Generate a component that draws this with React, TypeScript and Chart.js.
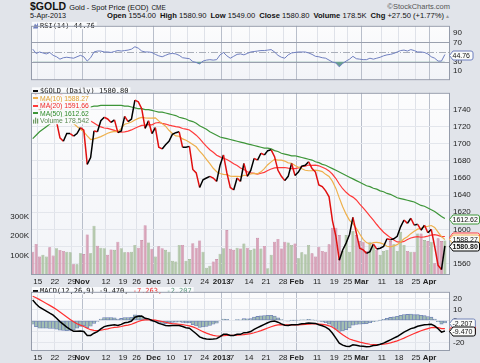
import React, { useEffect, useRef } from "react";
import { Chart, registerables } from "chart.js";
Chart.register(...registerables);

const FONT = "'Liberation Sans', Arial, sans-serif";
const MONO = "'DejaVu Sans Mono', monospace";

// ---- categories ----
const tradingDays: [string, number[]][] = [
  ["2012-10", [11, 12, 15, 16, 17, 18, 19, 22, 23, 24, 25, 26, 29, 30, 31]],
  ["2012-11", [1, 2, 5, 6, 7, 8, 9, 12, 13, 14, 15, 16, 19, 20, 21, 23, 26, 27, 28, 29, 30]],
  ["2012-12", [3, 4, 5, 6, 7, 10, 11, 12, 13, 14, 17, 18, 19, 20, 21, 24, 26, 27, 28, 31]],
  ["2013-01", [2, 3, 4, 7, 8, 9, 10, 11, 14, 15, 16, 17, 18, 21, 22, 23, 24, 25, 28, 29, 30, 31]],
  ["2013-02", [1, 4, 5, 6, 7, 8, 11, 12, 13, 14, 15, 19, 20, 21, 22, 25, 26, 27, 28]],
  ["2013-03", [1, 4, 5, 6, 7, 8, 11, 12, 13, 14, 15, 18, 19, 20, 21, 22, 25, 26, 27, 28]],
  ["2013-04", [1, 2, 3, 4, 5]],
];
const dates: string[] = tradingDays.flatMap(([m, ds]) => ds.map((d) => `${m}-${String(d).padStart(2, "0")}`));

const axisLabels: [string, string][] = [
  ["2012-10-15", "15"], ["2012-10-22", "22"], ["2012-10-29", "29"], ["2012-11-01", "Nov"],
  ["2012-11-12", "12"], ["2012-11-19", "19"], ["2012-11-26", "26"], ["2012-12-03", "Dec"],
  ["2012-12-10", "10"], ["2012-12-17", "17"], ["2012-12-24", "24"], ["2013-01-02", "2013"],
  ["2013-01-07", "7"], ["2013-01-14", "14"], ["2013-01-21", "21"], ["2013-01-28", "28"],
  ["2013-02-01", "Feb"], ["2013-02-11", "11"], ["2013-02-19", "19"], ["2013-02-25", "25"],
  ["2013-03-01", "Mar"], ["2013-03-11", "11"], ["2013-03-18", "18"], ["2013-03-25", "25"],
  ["2013-04-01", "Apr"],
];
const boldLabels = ["Nov", "Dec", "2013", "Feb", "Mar", "Apr"];
const monthStarts = ["2012-11-01", "2012-12-03", "2013-01-02", "2013-02-01", "2013-03-01", "2013-04-01"];

const priceTicks = [1560, 1580, 1600, 1620, 1640, 1660, 1680, 1700, 1720, 1740];
const volumeTicks = [100000, 200000, 300000];
const rsiTicks = [10, 30, 70, 90];
const macdTicks = [-20, -10, 0, 10, 20];

// ---- series ----
const closes = [
  1768, 1756, 1738, 1747, 1752, 1745, 1724, 1726, 1707, 1703,
  1712, 1712, 1709, 1712, 1719, 1716, 1676, 1684, 1715, 1714,
  1727, 1731, 1729, 1725, 1728, 1713, 1715, 1732, 1726, 1729,
  1751, 1749, 1741, 1718, 1727, 1712, 1719, 1696, 1694, 1699,
  1703, 1711, 1713, 1714, 1696, 1696, 1697, 1670, 1666, 1649,
  1658, 1660, 1662, 1660, 1656, 1675, 1687, 1666, 1649, 1646,
  1660, 1656, 1677, 1662, 1669, 1683, 1681, 1689, 1687, 1692,
  1693, 1685, 1669, 1662, 1657, 1662, 1677, 1663, 1667, 1674,
  1675, 1679, 1671, 1667, 1652, 1650, 1645, 1638, 1610, 1592,
  1564, 1576, 1584, 1594, 1614, 1596, 1578, 1576, 1572, 1574,
  1583, 1577, 1578, 1580, 1589, 1588, 1589, 1592, 1603, 1611,
  1607, 1613, 1605, 1606, 1599, 1605, 1596, 1600, 1580, 1558,
  1553, 1580.8,
];
const ma10 = [
  1774.1, 1772.5, 1768.8, 1765.9, 1763.3, 1758.8, 1753.2, 1748.4, 1742.7, 1736.6,
  1731, 1726.6, 1723.7, 1720.2, 1716.9, 1714, 1709.2, 1705, 1705.8, 1706.9,
  1708.4, 1710.3, 1712.3, 1713.6, 1714.5, 1714.2, 1718.1, 1722.9, 1724, 1725.5,
  1727.9, 1729.7, 1730.9, 1730.2, 1730.1, 1730, 1730.4, 1726.8, 1723.6, 1720.6,
  1715.8, 1712, 1709.2, 1708.8, 1705.7, 1704.1, 1701.9, 1699.3, 1696.5, 1691.5,
  1687, 1681.9, 1676.8, 1671.4, 1667.4, 1665.3, 1664.3, 1663.9, 1662.2, 1661.9,
  1662.1, 1661.7, 1663.2, 1663.4, 1664.7, 1665.5, 1664.9, 1667.2, 1671, 1675.6,
  1678.9, 1681.8, 1681, 1681, 1679.8, 1677.7, 1677.3, 1674.7, 1672.7, 1670.9,
  1669.1, 1668.5, 1668.7, 1669.2, 1668.7, 1667.5, 1664.3, 1661.8, 1656.1, 1647.9,
  1636.8, 1626.5, 1617.8, 1610.5, 1606.7, 1601.3, 1594.6, 1588.4, 1584.6, 1582.8,
  1584.7, 1584.8, 1584.2, 1582.8, 1580.3, 1579.5, 1580.6, 1582.2, 1585.3, 1589,
  1591.4, 1595, 1597.7, 1600.3, 1601.3, 1603, 1603.7, 1604.5, 1602.2, 1596.9,
  1591.5, 1588.27,
];
const ma20 = [
  1771.6, 1771, 1769.9, 1768.7, 1767.7, 1765.9, 1763.4, 1761.2, 1758.6, 1755.8,
  1752.6, 1749.6, 1746.3, 1743, 1740.1, 1736.4, 1731.2, 1726.7, 1724.3, 1721.8,
  1719.7, 1718.5, 1718, 1716.9, 1715.7, 1714.1, 1713.7, 1714, 1714.9, 1716.2,
  1718.2, 1720, 1721.6, 1721.9, 1722.3, 1722.1, 1724.3, 1724.9, 1723.8, 1723.1,
  1721.9, 1720.9, 1720.1, 1719.5, 1717.9, 1717.1, 1716.2, 1713.1, 1710.1, 1706.1,
  1701.4, 1697, 1693, 1690.1, 1686.6, 1684.7, 1683.1, 1681.6, 1679.4, 1676.7,
  1674.6, 1671.8, 1670, 1667.4, 1666.1, 1665.4, 1664.6, 1665.6, 1666.6, 1668.8,
  1670.5, 1671.8, 1672.1, 1672.2, 1672.3, 1671.6, 1671.1, 1671, 1671.9, 1673.3,
  1674, 1675.2, 1674.9, 1675.1, 1674.3, 1672.6, 1670.8, 1668.3, 1664.4, 1659.4,
  1653, 1647.5, 1643.3, 1639.9, 1637.7, 1634.4, 1629.5, 1625.1, 1620.4, 1615.4,
  1610.8, 1605.7, 1601, 1596.7, 1593.5, 1590.4, 1587.6, 1585.3, 1585, 1585.9,
  1588.1, 1589.9, 1591, 1591.6, 1590.8, 1591.3, 1592.2, 1593.4, 1593.8, 1593,
  1591.5, 1591.66,
];
const ma50 = [
  1706, 1710, 1714, 1717, 1720, 1723, 1726, 1728, 1730, 1732,
  1734, 1735, 1737, 1738, 1740, 1741, 1742, 1743, 1744, 1744,
  1745, 1745, 1745, 1745, 1745, 1745, 1745, 1744, 1744, 1743,
  1742, 1741, 1741, 1740, 1740, 1739, 1738, 1737, 1737, 1736,
  1735, 1734, 1733, 1731, 1730, 1729, 1727, 1726, 1724, 1721,
  1719, 1717, 1714, 1712, 1710, 1708, 1707, 1706, 1705, 1704,
  1703, 1702, 1701, 1700, 1699, 1698, 1697, 1696, 1695, 1695,
  1694, 1692, 1691, 1689, 1688, 1687, 1686, 1686, 1685, 1684,
  1683, 1682, 1681, 1679, 1678, 1676, 1675, 1673, 1671, 1669,
  1667, 1665, 1663, 1661, 1659, 1657, 1655, 1653, 1651, 1650,
  1648, 1647, 1645, 1644, 1642, 1641, 1639, 1637, 1636, 1635,
  1634, 1633, 1632, 1630, 1628, 1627, 1625, 1623, 1621, 1618,
  1615, 1612.62,
];
const volume = [
  120000, 160000, 95000, 104000, 95000, 143000, 100000, 138000, 129000, 124000,
  120000, 117000, 55000, 55000, 112000, 108000, 209000, 112000, 254000, 151000,
  141000, 138000, 104000, 132000, 130000, 172000, 138000, 117000, 117000, 120000,
  155000, 141000, 180000, 257000, 168000, 135000, 95000, 148000, 138000, 130000,
  120000, 73000, 70000, 155000, 155000, 73000, 82000, 164000, 141000, 178000,
  120000, 38000, 48000, 70000, 82000, 110000, 138000, 232000, 135000, 130000,
  140000, 137000, 163000, 141000, 129000, 137000, 192000, 137000, 150000, 35000,
  104000, 172000, 186000, 137000, 172000, 168000, 155000, 163000, 86000, 117000,
  107000, 155000, 112000, 95000, 146000, 124000, 120000, 158000, 244000, 244000,
  206000, 124000, 206000, 120000, 227000, 206000, 175000, 172000, 124000, 172000,
  155000, 129000, 104000, 124000, 129000, 175000, 158000, 124000, 223000, 155000,
  124000, 120000, 120000, 214000, 214000, 180000, 175000, 172000, 60000, 189000,
  175000, 178542,
];
const rsi = [
  56, 47, 50, 48, 46, 49, 43, 40, 35, 38,
  39, 38, 37, 40, 43, 40, 31, 38, 50, 52,
  52, 50, 50, 49, 51, 53, 52, 53, 54, 56,
  61, 58, 52, 50, 50, 49, 45, 42, 40, 43,
  46, 47, 46, 43, 38, 37, 36, 30, 28, 25,
  31, 33, 34, 33, 34, 44, 49, 42, 37, 41,
  45, 46, 44, 47, 50, 51, 52, 53, 53, 54,
  55, 50, 43, 39, 37, 44, 48, 49, 50, 50,
  50, 48, 45, 41, 40, 38, 37, 33, 29, 27,
  19, 26, 31, 35, 41, 36, 35, 34, 34, 37,
  35, 37, 39, 42, 44, 45, 47, 50, 53, 54,
  52, 55, 53, 50, 50, 49, 46, 40, 37, 31,
  31, 44.76,
];
const macd = [
  18.6, 15, 12, 10.3, 8.5, 6.6, 4.8, 2, -1, -3.5,
  -6, -8, -9.8, -9.8, -9.6, -10, -13.6, -13.5, -11.5, -10,
  -7.5, -5.5, -4.8, -4.2, -3.8, -4.5, -3.5, -2, -1.5, -0.5,
  3, 3.8, 4, 2, 1.5, 0, -1, -2.6, -3.5, -4.5,
  -4.8, -4.6, -4.5, -4.6, -5.5, -6.5, -7, -9.5, -12, -14.8,
  -16, -16.8, -17, -16.8, -16.4, -14.5, -12.5, -12.5, -13.5, -13.5,
  -12.5, -12.5, -11, -10.8, -10, -8, -6.5, -5, -3.5, -2,
  -0.8, -0.5, -1.5, -3, -4.3, -4.5, -3.8, -3.8, -3.5, -3,
  -2.8, -2.3, -2.4, -2.6, -3.8, -4.8, -6, -8, -11.5, -16,
  -20.5, -22.3, -23.3, -23.5, -22, -22.3, -23, -23.3, -23.8, -23.5,
  -22.7, -22.3, -21.5, -20.5, -19, -17.5, -16, -14.5, -12.5, -10.5,
  -9, -7.3, -6.5, -5.2, -4.5, -3.8, -3.7, -3.5, -4.8, -7.5,
  -10.5, -9.47,
];
const signal = [
  22, 20.6, 18.9, 17.2, 15.5, 13.7, 11.9, 9.9, 7.7, 5.5,
  3.2, 1, -1.2, -2.9, -4.2, -5.4, -7, -8.3, -8.9, -9.1,
  -8.8, -8.1, -7.5, -6.8, -6.2, -5.9, -5.4, -4.7, -4.1, -3.4,
  -2.1, -0.9, 0.1, 0.5, 0.7, 0.6, 0.3, -0.3, -0.9, -1.6,
  -2.3, -2.8, -3.1, -3.4, -3.8, -4.3, -4.9, -5.8, -7, -8.6,
  -10.1, -11.4, -12.5, -13.4, -14, -14.1, -13.8, -13.5, -13.5, -13.5,
  -13.3, -13.1, -12.7, -12.3, -11.8, -11.1, -10.2, -9.2, -8, -6.8,
  -5.6, -4.6, -4, -3.8, -3.9, -4, -4, -4, -3.9, -3.7,
  -3.5, -3.3, -3.1, -3, -3.2, -3.5, -4, -4.8, -6.1, -8.1,
  -10.6, -12.9, -15, -16.7, -17.8, -18.7, -19.6, -20.3, -21, -21.5,
  -21.7, -21.8, -21.7, -21.5, -21, -20.3, -19.4, -18.4, -17.2, -15.9,
  -14.5, -13.1, -11.8, -10.5, -9.3, -8.2, -7.3, -6.5, -6.2, -6.5,
  -7.3, -7.263,
];
const hist = [
  -3.4, -5.6, -6.9, -6.9, -7, -7.1, -7.1, -7.9, -8.7, -9,
  -9.2, -9, -8.6, -6.9, -5.4, -4.6, -6.6, -5.2, -2.6, -0.9,
  1.3, 2.6, 2.7, 2.6, 2.4, 1.4, 1.9, 2.7, 2.6, 2.9,
  5.1, 4.7, 3.9, 1.5, 0.8, -0.6, -1.3, -2.3, -2.6, -2.9,
  -2.5, -1.8, -1.4, -1.2, -1.7, -2.2, -2.1, -3.7, -5, -6.2,
  -5.9, -5.4, -4.5, -3.4, -2.4, -0.4, 1.3, 1, 0, 0,
  0.8, 0.6, 1.7, 1.5, 1.8, 3.1, 3.7, 4.2, 4.5, 4.8,
  4.8, 4.1, 2.5, 0.8, -0.4, -0.5, 0.2, 0.2, 0.4, 0.7,
  0.7, 1, 0.7, 0.4, -0.6, -1.3, -2, -3.2, -5.4, -7.9,
  -9.9, -9.4, -8.3, -6.8, -4.2, -3.6, -3.4, -3, -2.8, -2,
  -1, -0.5, 0.2, 1, 2, 2.8, 3.4, 3.9, 4.7, 5.4,
  5.5, 5.8, 5.3, 5.3, 4.8, 4.4, 3.6, 3, 1.4, -1,
  -3.2, -2.207,
];

const headerStats: [string, string][] = [
  ["Open", "1554.00"], ["High", "1580.90"], ["Low", "1549.00"],
  ["Close", "1580.80"], ["Volume", "178.5K"], ["Chg", "+27.50 (+1.77%)"],
];

// ---- helpers ----
const cats = [...dates, ""];
const labelMap = new Map(axisLabels);
const last = (a: number[]) => a[a.length - 1];

const C = {
  up: "#000000", down: "#e01010",
  ma10: "#eeb04c", ma20: "#ff3a3a", ma50: "#3d9538",
  volUp: "#b2c7a9", volDown: "#d8a2b8",
  rsi: "#6f7fc0", rsiFill: "#6aa090",
  sig: "#ff3030", histFill: "#a3bfb2", histLine: "#7284b8",
  border: "#959cab",
};

function xScale(show: boolean, h: number, pad: number) {
  return {
    type: "category",
    offset: true,
    border: { display: false },
    grid: {
      offset: true,
      drawTicks: false,
      lineWidth: 1,
      color: (c: any) => {
        const d = cats[c.index];
        if (!d) return "rgba(0,0,0,0)";
        if (monthStarts.includes(d)) return "#b9bfcb";
        if (labelMap.has(d)) return "#dfe2e9";
        return "rgba(0,0,0,0)";
      },
    },
    ticks: {
      display: show,
      autoSkip: false,
      maxRotation: 0,
      minRotation: 0,
      padding: pad,
      labelOffset: -1.7,
      color: "#222",
      font: (c: any) => ({
        family: FONT,
        size: 8,
        weight: boldLabels.includes(labelMap.get(cats[c.index]) || "") ? "bold" : "normal",
      }),
      callback: (_v: any, i: number) => labelMap.get(cats[i]) || "",
    },
    afterFit: (s: any) => { s.height = h; },
  };
}

function rightAxis(min: number, max: number, ticks: number[], grid: boolean) {
  return {
    position: "right",
    min, max,
    border: { display: false },
    grid: { display: grid, drawTicks: false, color: "#e3e6ec" },
    ticks: {
      padding: 3, color: "#222", font: { family: FONT, size: 8 },
      callback: (v: any) => String(v),
    },
    afterBuildTicks: (s: any) => { s.ticks = ticks.map((v) => ({ value: v })); },
    afterFit: (s: any) => { s.width = 30; },
  };
}

function panelPlugin(extra?: (chart: any) => void) {
  return {
    id: "panel",
    beforeDraw(chart: any) {
      const { ctx, chartArea: a } = chart;
      ctx.save();
      const g = ctx.createLinearGradient(0, a.top, 0, a.bottom);
      g.addColorStop(0, "#fcfcfd");
      g.addColorStop(1, "#f2f4f8");
      ctx.fillStyle = g;
      ctx.fillRect(a.left, a.top, a.right - a.left, a.bottom - a.top);
      ctx.restore();
    },
    afterDatasetsDraw(chart: any) {
      const { ctx, chartArea: a } = chart;
      if (extra) extra(chart);
      ctx.save();
      ctx.strokeStyle = C.border;
      ctx.lineWidth = 1;
      ctx.strokeRect(a.left + 0.5, a.top + 0.5, a.right - a.left - 1, a.bottom - a.top - 1);
      ctx.restore();
    },
  };
}

function drawTag(ctx: CanvasRenderingContext2D, y: number, text: string, color: string, bold = false) {
  ctx.save();
  ctx.font = `${bold ? "bold " : ""}7px ${FONT}`;
  const tw = ctx.measureText(text).width;
  const x0 = 449.5, h = 9, tip = 3.5;
  const x1 = Math.min(479.5, x0 + 3 + tw + 3);
  const t = Math.round(y) + 0.5;
  ctx.beginPath();
  ctx.moveTo(x0, t);
  ctx.lineTo(x0 + tip, t - h / 2);
  ctx.lineTo(x1 - 2, t - h / 2);
  ctx.quadraticCurveTo(x1, t - h / 2, x1, t - h / 2 + 2);
  ctx.lineTo(x1, t + h / 2 - 2);
  ctx.quadraticCurveTo(x1, t + h / 2, x1 - 2, t + h / 2);
  ctx.lineTo(x0 + tip, t + h / 2);
  ctx.closePath();
  ctx.fillStyle = "#fafbfa";
  ctx.fill();
  ctx.lineWidth = 1;
  ctx.strokeStyle = color;
  ctx.stroke();
  ctx.fillStyle = "#111";
  ctx.textBaseline = "middle";
  ctx.textAlign = "left";
  ctx.fillText(text, x0 + 3, t + 0.5);
  ctx.restore();
}

function legendRow(ctx: CanvasRenderingContext2D, y: number, parts: { text: string; color: string }[], font: string, icon: (ctx: CanvasRenderingContext2D, y: number) => void) {
  ctx.save();
  ctx.font = font;
  const w = parts.reduce((s, p) => s + ctx.measureText(p.text).width, 0);
  ctx.fillStyle = "rgba(250,251,252,0.96)";
  ctx.fillRect(32, y - 3.7, 8 + w + 2, 7.4);
  icon(ctx, y);
  let x = 40;
  ctx.textBaseline = "middle";
  ctx.textAlign = "left";
  for (const p of parts) {
    ctx.fillStyle = p.color;
    ctx.fillText(p.text, x, y + 0.5);
    x += ctx.measureText(p.text).width;
  }
  ctx.restore();
}

const dashIcon = (color: string) => (ctx: CanvasRenderingContext2D, y: number) => {
  ctx.fillStyle = color;
  ctx.fillRect(33, Math.round(y) - 1, 5, 2);
};

const baseOptions = {
  responsive: false,
  animation: false,
  events: [],
  plugins: { legend: { display: false }, tooltip: { enabled: false } },
};

export default function App() {
  const rsiRef = useRef<HTMLCanvasElement>(null);
  const priceRef = useRef<HTMLCanvasElement>(null);
  const macdRef = useRef<HTMLCanvasElement>(null);

  useEffect(() => {
    const charts: Chart[] = [];

    // RSI panel
    charts.push(new Chart(rsiRef.current!, {
      type: "line",
      data: {
        labels: cats,
        datasets: [{
          data: rsi,
          borderColor: C.rsi,
          borderWidth: 1,
          pointRadius: 0,
          tension: 0,
          fill: { target: { value: 30 }, above: "rgba(0,0,0,0)", below: C.rsiFill },
        }],
      },
      options: {
        ...baseOptions,
        layout: { padding: { left: 31, top: 4, bottom: 2, right: 0 } },
        scales: {
          x: xScale(false, 0, 0),
          y: rightAxis(-9, 104.8, rsiTicks, false),
        },
      } as any,
      plugins: [
        {
          id: "rsiLines",
          beforeDatasetsDraw(chart: any) {
            const { ctx, chartArea: a } = chart;
            const y = chart.scales.y;
            ctx.save();
            ctx.lineWidth = 1;
            ctx.strokeStyle = "#9aa0ae";
            for (const v of [70, 30]) {
              const p = Math.round(y.getPixelForValue(v)) + 0.5;
              ctx.beginPath(); ctx.moveTo(a.left, p); ctx.lineTo(a.right, p); ctx.stroke();
            }
            ctx.strokeStyle = "#a9aeb9";
            ctx.setLineDash([7, 2, 1, 2]);
            const p = Math.round(y.getPixelForValue(50)) + 0.5;
            ctx.beginPath(); ctx.moveTo(a.left, p); ctx.lineTo(a.right, p); ctx.stroke();
            ctx.restore();
          },
        },
        panelPlugin((chart: any) => {
          legendRow(chart.ctx, 7.5, [{ text: `RSI(14) ${last(rsi).toFixed(2)}`, color: "#222" }], `7px ${MONO}`, (ctx, y) => {
            ctx.fillStyle = C.rsi;
            ctx.beginPath();
            ctx.moveTo(33, y + 3); ctx.lineTo(35, y - 2); ctx.lineTo(36.5, y); ctx.lineTo(38, y - 3); ctx.lineTo(38, y + 3);
            ctx.closePath(); ctx.fill();
          });
        }),
        {
          id: "rsiTag",
          afterDraw(chart: any) {
            drawTag(chart.ctx, chart.scales.y.getPixelForValue(last(rsi)), last(rsi).toFixed(2), C.rsi);
          },
        },
      ],
    }));

    // Price + volume panel
    const volColors = closes.map((c, i) => (i > 0 && c >= closes[i - 1] ? C.volUp : C.volDown));
    const volBorders = closes.map((c, i) => (i > 0 && c >= closes[i - 1] ? "#97ae8c" : "#c27e9b"));
    charts.push(new Chart(priceRef.current!, {
      type: "line",
      data: {
        labels: cats,
        datasets: [
          {
            type: "bar", data: volume, yAxisID: "yv", order: 10,
            backgroundColor: volColors, borderColor: volBorders, borderWidth: 0.6,
            barPercentage: 0.9, categoryPercentage: 1,
          },
          { data: ma50, yAxisID: "y", order: 4, borderColor: C.ma50, borderWidth: 1.2, pointRadius: 0 },
          { data: ma20, yAxisID: "y", order: 3, borderColor: C.ma20, borderWidth: 1.2, pointRadius: 0 },
          { data: ma10, yAxisID: "y", order: 2, borderColor: C.ma10, borderWidth: 1.2, pointRadius: 0 },
          {
            data: closes, yAxisID: "y", order: 1, borderWidth: 1.5, pointRadius: 0, borderColor: C.up,
            segment: { borderColor: (c: any) => (c.p1.parsed.y < c.p0.parsed.y ? C.down : C.up) },
          },
        ],
      } as any,
      options: {
        ...baseOptions,
        layout: { padding: { left: 0, top: 2, bottom: 0, right: 0 } },
        scales: {
          x: xScale(true, 10, 2),
          y: rightAxis(1546.7, 1759.6, priceTicks, true),
          yv: {
            position: "left", min: 0, max: 940000,
            border: { display: false },
            grid: { display: false, drawTicks: false },
            ticks: {
              padding: 2, color: "#222", font: { family: FONT, size: 8 },
              callback: (v: any) => `${v / 1000}K`,
            },
            afterBuildTicks: (s: any) => { s.ticks = volumeTicks.map((v) => ({ value: v })); },
            afterFit: (s: any) => { s.width = 31; },
          },
        },
      } as any,
      plugins: [
        panelPlugin((chart: any) => {
          const ctx = chart.ctx;
          legendRow(ctx, 6, [{ text: `$GOLD (Daily) ${last(closes).toFixed(2)}`, color: "#111" }], `7px ${MONO}`, dashIcon("#111"));
          legendRow(ctx, 13.4, [{ text: `MA(10) ${last(ma10).toFixed(2)}`, color: "#e0a030" }], `6.8px ${FONT}`, dashIcon(C.ma10));
          legendRow(ctx, 20.8, [{ text: `MA(20) ${last(ma20).toFixed(2)}`, color: "#f02828" }], `6.8px ${FONT}`, dashIcon(C.ma20));
          legendRow(ctx, 28.2, [{ text: `MA(50) ${last(ma50).toFixed(2)}`, color: "#2f8a2a" }], `6.8px ${FONT}`, dashIcon(C.ma50));
          legendRow(ctx, 35.6, [{ text: `Volume ${last(volume).toLocaleString("en-US")}`, color: "#5b8a52" }], `6.8px ${FONT}`, (c, y) => {
            c.fillStyle = "#6d9a62";
            c.fillRect(33, y - 1, 1.2, 4);
            c.fillRect(35, y - 3, 1.2, 6);
            c.fillRect(37, y - 2, 1.2, 5);
          });
        }),
        {
          id: "priceTags",
          afterDraw(chart: any) {
            const y = chart.scales.y;
            const ctx = chart.ctx;
            drawTag(ctx, y.getPixelForValue(last(ma50)), last(ma50).toFixed(2), C.ma50);
            drawTag(ctx, y.getPixelForValue(last(ma20)), last(ma20).toFixed(2), C.ma20);
            drawTag(ctx, y.getPixelForValue(last(ma10)), last(ma10).toFixed(2), C.ma10);
            drawTag(ctx, y.getPixelForValue(last(closes)), last(closes).toFixed(2), "#000", true);
          },
        },
      ],
    }));

    // MACD panel
    charts.push(new Chart(macdRef.current!, {
      type: "line",
      data: {
        labels: cats,
        datasets: [
          {
            type: "bar", data: hist, order: 3,
            backgroundColor: C.histFill, borderColor: C.histLine, borderWidth: 0.8,
            barPercentage: 1, categoryPercentage: 1, borderSkipped: false,
          },
          { data: signal, order: 2, borderColor: C.sig, borderWidth: 1.2, pointRadius: 0 },
          { data: macd, order: 1, borderColor: "#000", borderWidth: 1.5, pointRadius: 0 },
        ],
      } as any,
      options: {
        ...baseOptions,
        layout: { padding: { left: 31, top: 2, bottom: 0, right: 0 } },
        scales: {
          x: xScale(true, 12, 2),
          y: rightAxis(-27.6, 26, macdTicks, true),
        },
      } as any,
      plugins: [
        panelPlugin((chart: any) => {
          legendRow(chart.ctx, 6.7, [
            { text: "MACD(12,26,9) ", color: "#111" },
            { text: `${last(macd).toFixed(3)}, `, color: "#111" },
            { text: `${last(signal).toFixed(3)}, `, color: "#f03030" },
            { text: `${last(hist).toFixed(3)}`, color: "#5f9a80" },
          ], `7px ${MONO}`, dashIcon("#111"));
        }),
        {
          id: "macdTags",
          afterDraw(chart: any) {
            const y = chart.scales.y;
            const ctx = chart.ctx;
            drawTag(ctx, y.getPixelForValue(last(signal)), last(signal).toFixed(3), C.sig);
            drawTag(ctx, y.getPixelForValue(last(hist)), last(hist).toFixed(3), C.histLine);
            drawTag(ctx, y.getPixelForValue(last(macd)), last(macd).toFixed(3), "#000");
          },
        },
      ],
    }));

    return () => charts.forEach((c) => c.destroy());
  }, []);

  const canvasStyle = (top: number): React.CSSProperties => ({ position: "absolute", left: 0, top, display: "block" });

  return (
    <div style={{ position: "fixed", left: 0, top: 0, width: 480, height: 363, background: "#e1e4ea", overflow: "hidden", fontFamily: FONT, color: "#111" }}>
      <div style={{ position: "absolute", left: 30, top: 0, display: "flex", alignItems: "baseline", whiteSpace: "nowrap", lineHeight: "12px" }}>
        <span style={{ fontWeight: "bold", fontSize: 10.5 }}>$GOLD</span>
        <span style={{ fontSize: 7.4, marginLeft: 3 }}>Gold - Spot Price (EOD)</span>
        <span style={{ fontSize: 6.4, marginLeft: 3 }}>CME</span>
      </div>
      <div style={{ position: "absolute", right: 30, top: 2, fontSize: 7.5, color: "#555", whiteSpace: "nowrap", lineHeight: "10px" }}>
        ©StockCharts.com
      </div>
      <div style={{ position: "absolute", left: 30, top: 11, fontSize: 7.2, whiteSpace: "nowrap", lineHeight: "10px" }}>5-Apr-2013</div>
      <div style={{ position: "absolute", right: 36, top: 11, fontSize: 7.6, whiteSpace: "nowrap", lineHeight: "10px" }}>
        {headerStats.map(([k, v]) => (
          <span key={k} style={{ marginLeft: 4 }}>
            <b>{k}</b> {v}
          </span>
        ))}
      </div>
      <div style={{ position: "absolute", left: 445, top: 12, fontSize: 5, color: "#999", lineHeight: "8px" }}>▲</div>
      <canvas ref={rsiRef} width={480} height={70} style={canvasStyle(18)} />
      <canvas ref={priceRef} width={480} height={200} style={canvasStyle(85)} />
      <canvas ref={macdRef} width={480} height={79} style={canvasStyle(284)} />
    </div>
  );
}
